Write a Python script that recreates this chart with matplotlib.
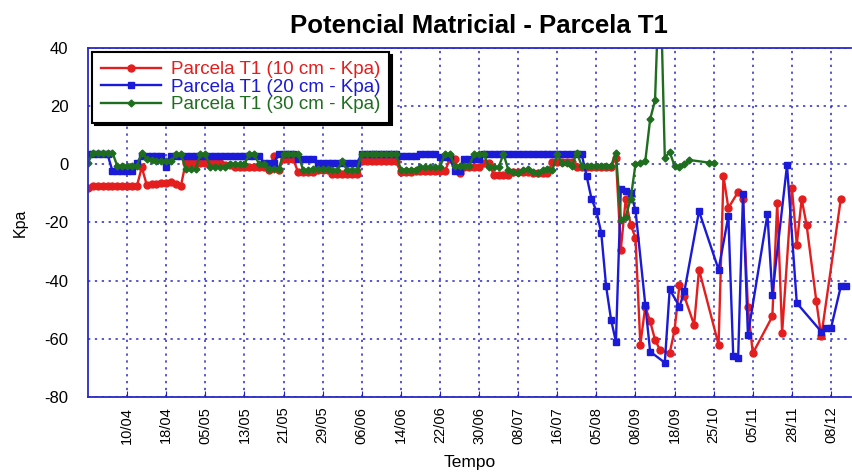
import numpy as np
import matplotlib
matplotlib.use("Agg")
import matplotlib.pyplot as plt

plt.rcParams['font.family'] = ['Liberation Sans', 'DejaVu Sans']
plt.rcParams['axes.unicode_minus'] = False

N = None
# readings per sample (one sample per category on the x axis), None = no reading
t1_10cm = [
    -8, -7.5, -7.5, -7.5, -7.5, -7.5, -7.5, -7.5,
    -7.5, -7.5, -7.5, -1, -7, -6.8, -6.6, -6.5,
    -6.3, -6.2, -6.6, -7.4, 0.6, 0.6, 0.6, 0.6,
    0.6, 0.6, 0.6, 0.6, -0.3, -0.3, -1, -1,
    -1, -1, -1, -1, -1, -2, 2.7, -2,
    1.7, 1.7, 1.7, -2.8, -2.8, -2.8, -2.8, -2,
    -2, -2, -3.4, -3.4, -3.4, -3.4, -3.4, -3.4,
    1, 1, 1, 1, 1, 1, 1, 1,
    -2.8, -2.8, -2.8, -2.4, -2.4, -2.4, -2.4, -2.4,
    -2.4, -2.4, 1.7, 1.7, -3, -1, -1, -1,
    -1, 0.5, 0.5, -3.5, -3.5, -3.5, -3.5, -2.5,
    -2.5, -2.5, -2.5, -3, -3, -3, -3, 0.7,
    0.7, 0.7, 0.7, 0.7, -1, -1, -1, -1,
    -1, -1, -1, -1, 2.3, -29.3, -12, -20.7,
    -25.3, -62, -48.9, -54, -60.3, -63.8, N, -65,
    -56.9, -41.4, -45.4, N, -55.2, -36.2, N, N,
    N, -62, -4, -15, N, -9.5, -12, -48.9,
    -65, N, N, N, -52.3, -13.2, -58, N,
    -8, -27.6, -12, -20.7, N, -47.1, -59.2, N,
    N, N, -12, N,
]
t1_20cm = [
    3.4, 3.4, 3.4, 3.4, 3.4, -2.3, -2.3, -2.3,
    -2.3, -2.3, 0.6, 2.8, 2.8, 2.8, 2.8, 2.8,
    -1, 2.8, 2.8, 2.8, 2.8, 2.8, 2.8, 2.8,
    2.8, 2.8, 2.8, 2.8, 2.8, 2.8, 2.8, 2.8,
    2.8, 2.8, 2.8, 2.8, 0.6, 0.6, 0.6, 3.4,
    3.4, 3.4, 3.4, 1.7, 1.7, 1.7, 1.7, 0.5,
    0.5, 0.5, 0.5, 0.5, 0.5, 0.5, 0.5, 0.5,
    3.4, 3.4, 3.4, 3.4, 3.4, 3.4, 3.4, 3.4,
    2.8, 2.8, 2.8, 2.8, 3.4, 3.4, 3.4, 3.4,
    2.5, 2.5, 2.5, -2.3, -2.3, 1.8, 1.8, 1.8,
    1.8, 3.4, 3.4, 3.4, 3.4, 3.4, 3.4, 3.4,
    3.4, 3.4, 3.4, 3.4, 3.4, 3.4, 3.4, 3.4,
    3.4, 3.4, 3.4, 3.4, 3.4, 3.4, -4, -11.8,
    -16.1, -23.6, -42, -53.4, -61, -8.6, -9.2, -9.8,
    -15.7, N, -48.3, -64.4, N, N, -68.2, -43,
    N, -48.9, -43.7, N, N, -16.1, N, N,
    N, -36.2, N, -17.8, -65.9, -66.7, -10.3, -58.6,
    N, N, N, -17.2, -44.8, N, N, -0.3,
    N, -47.7, N, N, N, N, -57.5, -56.3,
    -56.3, N, -42, -42,
]
t1_30cm = [
    0.6, 4, 4, 4, 4, 4, -0.6, -0.6,
    -0.6, -0.6, -0.6, 4, 2, 1.5, 1, 1,
    1, 1, 3.5, 3.5, -1.5, -1.5, -1.5, 3.5,
    3.5, -0.8, -0.8, -0.8, -0.8, 0, 0, 0,
    0, 3.6, 3.6, 0, 0, -1.5, -1.5, -1.5,
    3.6, 3.6, 3.6, 3.6, -2, -2, -1.5, -1.5,
    -1.5, -1.5, -2, -2, 1, -2, -2, -2,
    3.6, 3.6, 3.6, 3.6, 3.6, 3.6, 3.6, 3.6,
    -1.8, -1.8, -1.8, -1.8, -1, -1, -1, -1,
    -1, 3.6, 3.6, -0.5, -0.5, -0.5, -0.5, 3.6,
    3.6, 3.6, -1, -1, -1, 3.6, -2, -2.5,
    -3, -2, -1.5, -2.5, -3, -2, -1.5, -2,
    3.6, 0.3, 0.3, -0.5, 4, -0.5, -0.5, -0.5,
    -0.5, -0.5, -0.5, -0.5, 4, -19, -18, -12,
    0, 0.5, 1, 15.5, 22, 70, 2.3, 4.2,
    -0.5, -1, 0, 1.5, N, N, N, 0.6,
    0.6, N, N, N, N, N, N, N,
    N, N, N, N, N, N, N, N,
    N, N, N, N, N, N, N, N,
    N, N, N, N,
]
dates = ['10/04', '18/04', '05/05', '13/05', '21/05', '29/05', '06/06', '14/06',
         '22/06', '30/06', '08/07', '16/07', '05/08', '08/09', '18/09', '25/10',
         '05/11', '28/11', '08/12']
per_tick = 8

fig = plt.figure(figsize=(8.52, 4.73), dpi=100)
ax = fig.add_axes([0.1033, 0.1607, 0.895, 0.7378])

series = [
    (t1_10cm, 'Parcela T1 (10 cm - Kpa)', '#e41e1e', 'o', 5),
    (t1_20cm, 'Parcela T1 (20 cm - Kpa)', '#1a1ad8', 's', 5),
    (t1_30cm, 'Parcela T1 (30 cm - Kpa)', '#1f6e1f', 'D', 3.5),
]
for vals, name, col, mk, ms in series:
    y = np.array([np.nan if v is None else v for v in vals], dtype=float)
    x = np.arange(len(y))
    ok = ~np.isnan(y)
    ax.plot(x[ok], y[ok], color=col, lw=1.7, marker=mk, ms=ms, mec=col, mfc=col,
            label=name)

ax.set_xlim(0, 156)
ax.set_ylim(-80, 40)
ax.set_yticks([40, 20, 0, -20, -40, -60, -80])
ax.set_xticks(np.arange(1, len(dates) + 1) * per_tick)
ax.set_xticklabels(dates, rotation=90, fontsize=10.5)
ax.tick_params(axis='y', labelsize=12, length=0, pad=14)
ax.tick_params(axis='x', length=4, color='#2020c0', direction='in', pad=7)
ax.grid(True, color='#2828c8', linestyle=(0, (1.5, 3)), lw=1.1)
for s in ['left', 'bottom', 'top']:
    ax.spines[s].set_color('#2828c8')
    ax.spines[s].set_linewidth(1.3)
ax.spines['right'].set_visible(False)

ax.set_title('Potencial Matricial - Parcela T1', fontsize=18.5, fontweight='bold',
             pad=11, x=0.513)
ax.set_ylabel('Kpa', fontsize=11.5, labelpad=12)
ax.set_xlabel('Tempo', fontsize=12.5, labelpad=8)

leg = ax.legend(loc='upper left', bbox_to_anchor=(0.0, 1.0), fontsize=13.5, frameon=True,
                fancybox=False, shadow={'color': 'black', 'alpha': 1.0}, numpoints=1,
                handlelength=3.2, borderpad=0.5, labelspacing=0.02, borderaxespad=0.2,
                handletextpad=0.5)
leg.get_frame().set_edgecolor('black')
leg.get_frame().set_linewidth(1.5)
for txt, (_, _, col, _, _) in zip(leg.get_texts(), series):
    txt.set_color(col)

fig.savefig('out.png', dpi=100)
